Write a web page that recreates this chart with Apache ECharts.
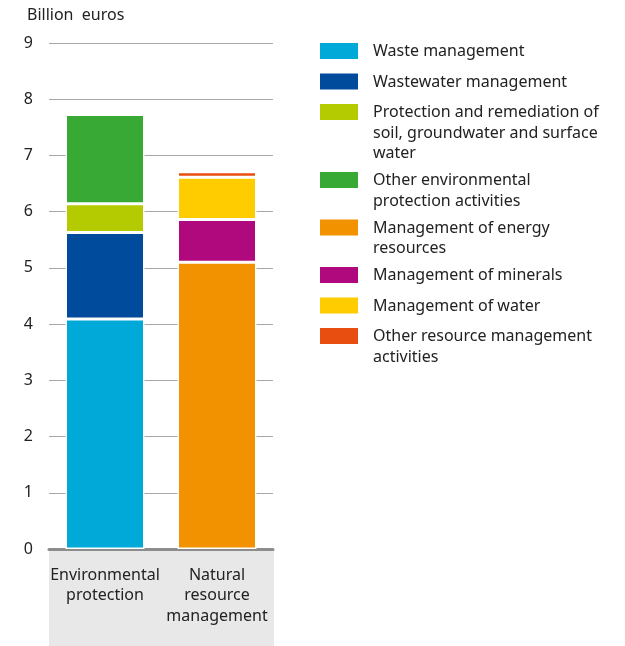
<!DOCTYPE html>
<html><head><meta charset="utf-8">
<script src="https://cdn.jsdelivr.net/npm/echarts@6/dist/echarts.min.js"></script>
<style>html,body{margin:0;padding:0;background:#fff}#c{width:625px;height:646px}</style>
</head><body><div id="c"></div>
<script>
var categories = ['Environmental\nprotection', 'Natural\nresource\nmanagement'];
var seriesNames = [
  'Waste management',
  'Wastewater management',
  'Protection and remediation of\nsoil, groundwater and surface\nwater',
  'Other environmental\nprotection activities',
  'Management of energy\nresources',
  'Management of minerals',
  'Management of water',
  'Other resource management\nactivities'
];
var seriesColors = ['#00a9d8', '#004b9b', '#b3cb00', '#38a935', '#f39200', '#b0097e', '#ffcc00', '#e84e0f'];
var wasteManagement      = [4.09, null];
var wastewaterManagement = [1.54, null];
var soilProtection       = [0.51, null];
var otherEnvironmental   = [1.59, null];
var energyResources      = [null, 5.10];
var minerals             = [null, 0.76];
var water                = [null, 0.75];
var otherResource        = [null, 0.10];
var seriesValues = [wasteManagement, wastewaterManagement, soilProtection, otherEnvironmental, energyResources, minerals, water, otherResource];
var yTicks = [0, 1, 2, 3, 4, 5, 6, 7, 8, 9];

var FONT = 'Noto Sans';
var chart = echarts.init(document.getElementById('c'), null, {renderer: 'canvas'});

var series = seriesNames.map(function (n, i) {
  return {
    name: n, type: 'bar', stack: 'total', barWidth: 79,
    data: seriesValues[i],
    itemStyle: {color: seriesColors[i], borderColor: '#fff', borderWidth: 1.5},
    emphasis: {disabled: true}
  };
});

// legend as graphic elements, swatch aligned to first text line
var legendGraphics = [];
var y = 43;
seriesNames.forEach(function (n, i) {
  var lines = n.split('\n').length;
  legendGraphics.push({type: 'rect', left: 320, top: y, shape: {width: 38, height: 16}, style: {fill: seriesColors[i]}});
  legendGraphics.push({type: 'text', left: 373, top: y - 1.5, style: {text: n, font: '16px "' + FONT + '"', fill: '#222', lineHeight: 20.5}});
  y += lines * 20.5 + (lines > 1 ? 6.5 : 10);
});

chart.setOption({
  animation: false,
  grid: {left: 49, right: 352, top: 43, bottom: 97, containLabel: false},
  graphic: [
    {type: 'rect', left: 49, top: 551, shape: {width: 225, height: 95}, style: {fill: '#e8e8e8'}, z: -10},
    {type: 'text', left: 27, top: 7, style: {text: 'Billion  euros', font: '16px "' + FONT + '"', fill: '#222'}}
  ].concat(legendGraphics),
  xAxis: {
    type: 'category', data: categories,
    axisLine: {show: true, lineStyle: {color: '#8c8c8c', width: 3}},
    axisTick: {show: false},
    axisLabel: {color: '#222', fontFamily: FONT, fontSize: 16, lineHeight: 20.5, margin: 16, interval: 0}
  },
  yAxis: {
    type: 'value', min: 0, max: 9, interval: 1,
    axisLine: {show: false}, axisTick: {show: false},
    axisLabel: {color: '#222', fontFamily: FONT, fontSize: 16, margin: 16,
      formatter: function (v) { return yTicks.indexOf(v) >= 0 ? String(v) : ''; }},
    splitLine: {lineStyle: {color: '#a8a8a8', width: 1}}
  },
  series: series
});
</script></body></html>
